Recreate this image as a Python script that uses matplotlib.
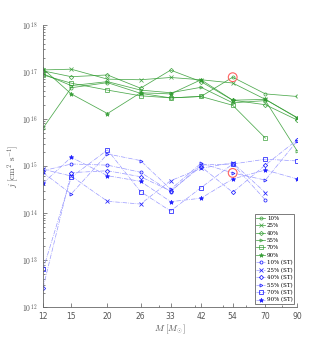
import numpy as np
import matplotlib
matplotlib.use("Agg")
import matplotlib.pyplot as plt
from matplotlib.ticker import FixedLocator, FixedFormatter, NullFormatter, LogLocator

plt.rcParams['mathtext.fontset'] = 'cm'

masses = [12, 15, 20, 26, 33, 42, 54, 70, 90]
nan = np.nan

# green: full models
g10 = [6.4e15, 4.6e16, 5.9e16, 3.5e16, 2.8e16, 3.0e16, 7.7e16, 3.4e16, 3.0e16]
g25 = [1.1e17, 1.14e17, 7.0e16, 6.8e16, 7.6e16, 6.8e16, 5.8e16, 2.6e16, 1.07e16]
g40 = [1.05e17, 7.9e16, 8.6e16, 4.5e16, 1.09e17, 6.2e16, 2.5e16, 2.0e16, 9.5e15]
g55 = [9.1e16, 5.1e16, 6.2e16, 4.1e16, 3.6e16, 4.7e16, 2.2e16, 2.45e16, 2.1e15]
g70 = [8.6e16, 5.75e16, 4.1e16, 3.1e16, 2.8e16, 3.0e16, 1.95e16, 3.9e15, nan]
g90 = [1.16e17, 3.4e16, 1.3e16, 3.6e16, 3.4e16, 6.8e16, 2.5e16, 2.6e16, 1.05e16]

# blue: (ST) models
b10 = [7.9e14, 1.1e15, 1.04e15, 7.35e14, 2.84e14, 1.05e15, 1.1e15, 1.89e14, nan]
b25 = [8.5e14, 6.1e14, 1.77e14, 1.55e14, 4.86e14, 8.9e14, 1.17e15, 2.7e14, nan]
b40 = [2.6e12, 7.2e14, 7.9e14, 5.9e14, 2.94e14, 9.7e14, 2.75e14, 1.05e15, 3.57e15]
b55 = [7.2e14, 2.54e14, 1.8e15, 1.3e15, 3.19e14, 1.14e15, 7.1e14, 5.0e14, 3.4e15]
b70 = [6.3e12, 5.75e14, 2.19e15, 2.84e14, 1.1e14, 3.45e14, 1.1e15, 1.39e15, 1.28e15]
b90 = [4.3e14, 1.53e15, 6.2e14, 4.7e14, 1.74e14, 2.06e14, 5.3e14, 8.2e14, 5.3e14]

labels = ['10', '25', '40', '55', '70', '90']
markers = ['o', 'x', 'D', '>', 's', '*']
green = [g10, g25, g40, g55, g70, g90]
blue = [b10, b25, b40, b55, b70, b90]

# highlighted points
circ_x = [54, 54]
circ_y = [7.7e16, 7.1e14]

fig = plt.figure(figsize=(3.29, 3.45), dpi=100)
ax = fig.add_axes([0.131, 0.110, 0.772, 0.818])

gcol = '#2e9a2e'
for lab, m, y in zip(labels, markers, green):
    ms = 3.2 if m == '*' else 2.2
    fc = gcol if m == '*' else 'none'
    ax.plot(masses, y, color=gcol, lw=0.55, marker=m, ms=ms, mfc=fc, mec=gcol,
            mew=0.55, alpha=0.85, label=lab + '%')

for lab, m, y in zip(labels, markers, blue):
    ms = 3.2 if m == '*' else 2.2
    fc = '#2020ff' if m == '*' else 'none'
    ax.plot(masses, y, color='#9a9aff', lw=0.5, ls='-.', marker=m, ms=ms,
            mfc=fc, mec='#2020ff', mew=0.55, label=lab + '% (ST)')

ax.scatter(circ_x, circ_y, s=40, facecolors='none', edgecolors='#ff6060',
           linewidths=0.8, zorder=5)

ax.set_xscale('log')
ax.set_yscale('log')
ax.set_xlim(12, 90)
ax.set_ylim(1e12, 1e18)

ax.xaxis.set_major_locator(FixedLocator(masses))
ax.xaxis.set_major_formatter(FixedFormatter([str(m) for m in masses]))
ax.xaxis.set_minor_locator(LogLocator(base=10, subs=np.arange(2, 10)))
ax.xaxis.set_minor_formatter(NullFormatter())
ax.yaxis.set_major_locator(FixedLocator([1e12, 1e13, 1e14, 1e15, 1e16, 1e17, 1e18]))
ax.yaxis.set_major_formatter(FixedFormatter(
    ['$10^{\\,%d}$' % e for e in range(12, 19)]))
ax.yaxis.set_minor_locator(LogLocator(base=10, subs=np.arange(2, 10)))
ax.yaxis.set_minor_formatter(NullFormatter())

for s in ['top', 'right']:
    ax.spines[s].set_visible(False)
for s in ['left', 'bottom']:
    ax.spines[s].set_color('#666666')
    ax.spines[s].set_linewidth(0.6)
ax.tick_params(which='both', direction='in', colors='#555555', labelsize=5.5,
               width=0.5)
ax.tick_params(which='major', length=3)
ax.tick_params(which='minor', length=1.5)

ax.set_xlabel('$M\\ [M_{\\odot}]$', fontsize=6.5, color='#555555', labelpad=1)
ax.set_ylabel('$j\\ [\\mathrm{cm}^2\\ \\mathrm{s}^{-1}]$', fontsize=6.5,
              color='#555555', labelpad=1)

leg = ax.legend(loc='lower right', prop={'family': 'DejaVu Serif', 'size': 4},
                handlelength=1.6, labelspacing=0.42, borderpad=0.3,
                borderaxespad=0.5, handletextpad=0.3, fancybox=False,
                framealpha=1)
leg.get_frame().set_edgecolor('#666666')
leg.get_frame().set_linewidth(0.6)

fig.savefig('out.png', dpi=100)
